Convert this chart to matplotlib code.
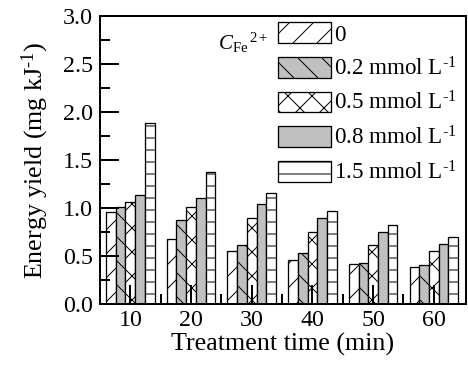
import numpy as np
import matplotlib
matplotlib.use("Agg")
import matplotlib.pyplot as plt
from matplotlib import font_manager
from matplotlib.ticker import FixedLocator, MultipleLocator

# Energy yield vs treatment time for several Fe2+ doses
times = [10, 20, 30, 40, 50, 60]
labels = ["0", r"0.2 mmol L$^{\text{-1}}$", r"0.5 mmol L$^{\text{-1}}$",
          r"0.8 mmol L$^{\text{-1}}$", r"1.5 mmol L$^{\text{-1}}$"]
fe_0 = [0.96, 0.68, 0.55, 0.46, 0.42, 0.39]
fe_02 = [1.01, 0.87, 0.61, 0.53, 0.43, 0.41]
fe_05 = [1.06, 1.01, 0.90, 0.75, 0.61, 0.55]
fe_08 = [1.14, 1.10, 1.04, 0.90, 0.75, 0.63]
fe_15 = [1.89, 1.38, 1.16, 0.97, 0.82, 0.70]

series = [fe_0, fe_02, fe_05, fe_08, fe_15]
faces = ["white", "#c0c0c0", "white", "#c0c0c0", "white"]
hatches = ["/", "\\", "x", None, "-"]

serif = [f for f in font_manager.findSystemFonts() if "LiberationSerif" in f]
for f in serif:
    font_manager.fontManager.addfont(f)

plt.rcParams["font.family"] = "Liberation Serif"
plt.rcParams["mathtext.fontset"] = "custom"
plt.rcParams["mathtext.rm"] = "Liberation Serif"
plt.rcParams["mathtext.it"] = "Liberation Serif:italic"
plt.rcParams["hatch.linewidth"] = 1.0

fig = plt.figure(figsize=(6.5, 369 / 72), dpi=72)
ax = fig.add_axes([100 / 468, 65 / 369, 366 / 468, 288 / 369])

width = 1.6
x = np.array(times, dtype=float)
for i, vals in enumerate(series):
    ax.bar(x + (i - 2) * width, vals, width, color=faces[i], edgecolor="black",
           linewidth=1.3, hatch=hatches[i], label=labels[i])

ax.set_xlim(5, 65.3)
ax.set_ylim(0, 3.0)
ax.set_xticks(times)
ax.xaxis.set_minor_locator(FixedLocator([15, 25, 35, 45, 55]))
ax.yaxis.set_major_locator(MultipleLocator(0.5))
ax.yaxis.set_minor_locator(MultipleLocator(0.25))
ax.yaxis.set_major_formatter(matplotlib.ticker.FormatStrFormatter("%.1f"))

ax.tick_params(which="both", direction="in", width=2, labelsize=24,
               top=False, right=False)
ax.tick_params(which="major", length=19)
ax.tick_params(which="minor", length=10)
ax.tick_params(axis="y", pad=7)
ax.tick_params(axis="x", pad=6)
for sp in ax.spines.values():
    sp.set_linewidth(2)

ax.set_xlabel("Treatment time (min)", fontsize=26, labelpad=2)
ax.set_ylabel(r"Energy yield (mg kJ$^{\text{-1}}$)", fontsize=26, labelpad=12)

ax.text(0.322, 0.905, r"$C_{\mathrm{Fe}}{}^{\mathrm{\,2+}}$", transform=ax.transAxes,
        fontsize=21, va="center", ha="left")

ax.legend(loc="upper left", bbox_to_anchor=(0.486, 0.978), frameon=False,
          fontsize=23, handlelength=2.3, handleheight=1.0, labelspacing=0.5,
          handletextpad=0.15, borderpad=0, borderaxespad=0)

fig.savefig("out.png", dpi=72)
